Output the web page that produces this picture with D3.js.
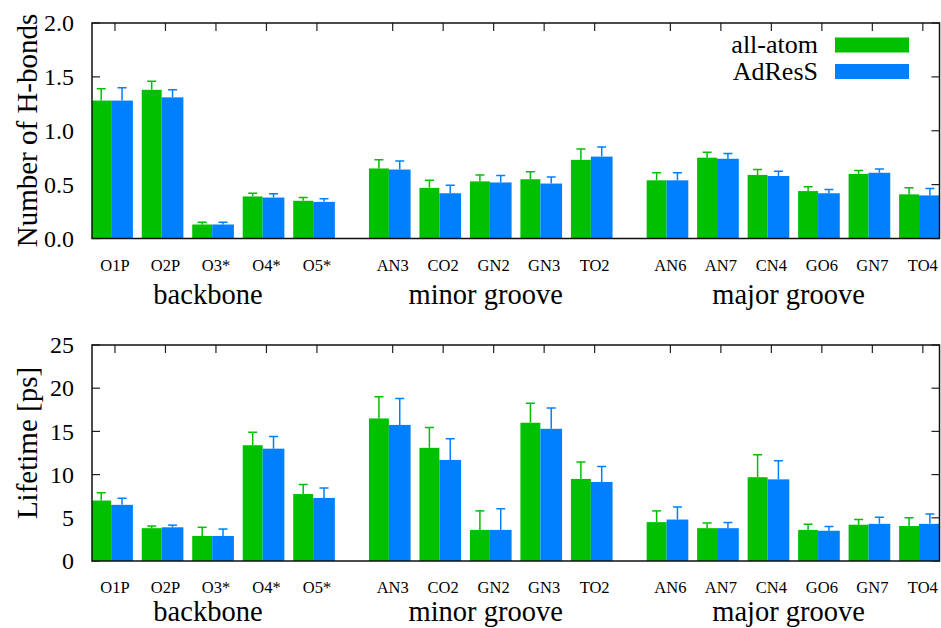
<!DOCTYPE html>
<html>
<head>
<meta charset="utf-8">
<script src="https://cdn.jsdelivr.net/npm/d3@7"></script>
<style>
  body { margin: 0; background: #fff; }
  svg text { font-family: "Liberation Serif", "Times New Roman", Times, serif; fill: #000; }
</style>
</head>
<body>
<div id="chart"></div>
<script>
// categories and groups
const categories = ["O1P", "O2P", "O3*", "O4*", "O5*",
  "AN3", "CO2", "GN2", "GN3", "TO2",
  "AN6", "AN7", "CN4", "GO6", "GN7", "TO4"];
const groupNames = ["backbone", "minor groove", "major groove"];
const groupOf = [0, 0, 0, 0, 0, 1, 1, 1, 1, 1, 2, 2, 2, 2, 2, 2];
const seriesNames = ["all-atom", "AdResS"];
const seriesColors = ["#00c000", "#0080ff"];

// number of H-bonds
const hbondAtom = [1.28, 1.38, 0.13, 0.39, 0.35, 0.65, 0.47, 0.53, 0.55, 0.73, 0.54, 0.75, 0.59, 0.44, 0.60, 0.41];
const hbondAtomErr = [0.11, 0.08, 0.02, 0.03, 0.03, 0.08, 0.07, 0.06, 0.07, 0.10, 0.07, 0.05, 0.05, 0.04, 0.03, 0.06];
const hbondAdress = [1.28, 1.31, 0.13, 0.38, 0.34, 0.64, 0.42, 0.52, 0.51, 0.76, 0.54, 0.74, 0.58, 0.42, 0.61, 0.40];
const hbondAdressErr = [0.12, 0.07, 0.02, 0.035, 0.03, 0.08, 0.075, 0.065, 0.06, 0.09, 0.07, 0.05, 0.045, 0.035, 0.035, 0.065];

// lifetime [ps]
const lifeAtom = [7.0, 3.8, 2.9, 13.4, 7.75, 16.5, 13.1, 3.6, 16.0, 9.5, 4.5, 3.8, 9.7, 3.6, 4.2, 4.05];
const lifeAtomErr = [0.9, 0.25, 1.0, 1.5, 1.1, 2.5, 2.35, 2.2, 2.25, 1.95, 1.3, 0.6, 2.6, 0.65, 0.6, 0.95];
const lifeAdress = [6.5, 3.9, 2.9, 13.0, 7.3, 15.75, 11.7, 3.6, 15.3, 9.15, 4.8, 3.8, 9.45, 3.5, 4.3, 4.3];
const lifeAdressErr = [0.75, 0.25, 0.8, 1.4, 1.15, 3.05, 2.45, 2.45, 2.4, 1.8, 1.45, 0.65, 2.15, 0.5, 0.75, 1.15];

const hbondTicks = [0, 0.5, 1.0, 1.5, 2.0];
const lifeTicks = [0, 5, 10, 15, 20, 25];

const W = 941, H = 628;
const svg = d3.select("#chart").append("svg")
  .attr("width", W)
  .attr("height", H)
  .attr("font-family", "'Liberation Serif', 'Times New Roman', serif");

// position of each category: small gap between the groups
const pos = categories.map((c, i) => i + groupOf[i] * 0.5);

let x = d3.scaleLinear()
  .domain([-0.455, 16.33])
  .range([92, 939.5]);

function drawPanel(opt) {
  let y = d3.scaleLinear().domain(opt.domain).range([opt.bottom, opt.top]);
  let g = svg.append("g");
  let clipId = "clip" + opt.id;

  g.append("clipPath").attr("id", clipId)
    .append("rect")
    .attr("x", x.range()[0]).attr("y", opt.top)
    .attr("width", x.range()[1] - x.range()[0])
    .attr("height", opt.bottom - opt.top);

  // x ticks (top and bottom, inward)
  g.selectAll(".xt").data(pos).enter().append("line")
    .attr("x1", d => x(d)).attr("x2", d => x(d))
    .attr("y1", opt.top).attr("y2", opt.top + 8)
    .attr("stroke", "#222").attr("stroke-width", 1.2);
  g.selectAll(".xb").data(pos).enter().append("line")
    .attr("x1", d => x(d)).attr("x2", d => x(d))
    .attr("y1", opt.bottom).attr("y2", opt.bottom - 8)
    .attr("stroke", "#222").attr("stroke-width", 1.2);

  // y ticks left and right
  g.selectAll(".yl").data(opt.ticks).enter().append("line")
    .attr("x1", x.range()[0]).attr("x2", x.range()[0] + 8)
    .attr("y1", d => y(d)).attr("y2", d => y(d))
    .attr("stroke", "#222").attr("stroke-width", 1.2);
  g.selectAll(".yr").data(opt.ticks).enter().append("line")
    .attr("x1", x.range()[1]).attr("x2", x.range()[1] - 8)
    .attr("y1", d => y(d)).attr("y2", d => y(d))
    .attr("stroke", "#222").attr("stroke-width", 1.2);

  g.selectAll(".ylab").data(opt.ticks).enter().append("text")
    .attr("x", 74).attr("y", d => y(d))
    .attr("dy", "0.34em")
    .attr("text-anchor", "end")
    .style("font-size", "24px")
    .text(opt.fmt);

  // bars
  let bars = g.append("g").attr("clip-path", "url(#" + clipId + ")");
  let offsets = [[-0.47, -0.075], [-0.075, 0.355]];
  opt.series.forEach((s, k) => {
    let [o0, o1] = offsets[k];
    bars.selectAll(".b" + k).data(s.values).enter().append("rect")
      .attr("x", (d, i) => x(pos[i] + o0))
      .attr("width", (d, i) => x(pos[i] + o1) - x(pos[i] + o0))
      .attr("y", d => y(d))
      .attr("height", d => opt.bottom - y(d))
      .attr("fill", seriesColors[k]);

    // error bars (upper half only visible)
    let cx = i => x(pos[i] + (o0 + o1) / 2);
    bars.selectAll(".e" + k).data(s.values).enter().append("line")
      .attr("x1", (d, i) => cx(i)).attr("x2", (d, i) => cx(i))
      .attr("y1", d => y(d))
      .attr("y2", (d, i) => y(d + s.err[i]))
      .attr("stroke", seriesColors[k]).attr("stroke-width", 1.5);
    bars.selectAll(".c" + k).data(s.values).enter().append("line")
      .attr("x1", (d, i) => cx(i) - 4.5).attr("x2", (d, i) => cx(i) + 4.5)
      .attr("y1", (d, i) => y(d + s.err[i]))
      .attr("y2", (d, i) => y(d + s.err[i]))
      .attr("stroke", seriesColors[k]).attr("stroke-width", 1.5);
  });

  // frame
  g.append("rect")
    .attr("x", x.range()[0]).attr("y", opt.top)
    .attr("width", x.range()[1] - x.range()[0])
    .attr("height", opt.bottom - opt.top)
    .attr("fill", "none").attr("stroke", "#111").attr("stroke-width", 1.5);

  // category labels
  g.selectAll(".xlab").data(categories).enter().append("text")
    .attr("x", (d, i) => x(pos[i]))
    .attr("y", opt.bottom + 32)
    .attr("text-anchor", "middle")
    .style("font-size", "16.5px")
    .text(d => d);

  // group labels
  groupNames.forEach((name, gi) => {
    let ps = pos.filter((p, i) => groupOf[i] === gi);
    let cxg = (x(d3.min(ps)) + x(d3.max(ps))) / 2 - 8;
    g.append("text")
      .attr("x", cxg).attr("y", opt.groupY)
      .attr("text-anchor", "middle")
      .style("font-size", "28.5px")
      .text(name);
  });

  // y title
  g.append("text")
    .attr("transform", "translate(37," + opt.titleY + ") rotate(-90)")
    .attr("text-anchor", "middle")
    .style("font-size", "29px")
    .text(opt.title);

  return y;
}

drawPanel({
  id: 1, top: 23, bottom: 238.5, domain: [0, 2], ticks: hbondTicks,
  fmt: d3.format(".1f"), title: "Number of H-bonds", titleY: 130.5, groupY: 304,
  series: [{ values: hbondAtom, err: hbondAtomErr }, { values: hbondAdress, err: hbondAdressErr }]
});

drawPanel({
  id: 2, top: 345, bottom: 561, domain: [0, 25], ticks: lifeTicks,
  fmt: d3.format("d"), title: "Lifetime [ps]", titleY: 443, groupY: 621,
  series: [{ values: lifeAtom, err: lifeAtomErr }, { values: lifeAdress, err: lifeAdressErr }]
});

// legend
let legend = svg.append("g");
seriesNames.forEach((name, k) => {
  let cy = 45 + k * 26.5;
  legend.append("text")
    .attr("x", 818).attr("y", cy + 8)
    .attr("text-anchor", "end")
    .style("font-size", "26px")
    .text(name);
  legend.append("rect")
    .attr("x", 835).attr("y", cy - 7.5)
    .attr("width", 74).attr("height", 15)
    .attr("fill", seriesColors[k]);
});
</script>
</body>
</html>
